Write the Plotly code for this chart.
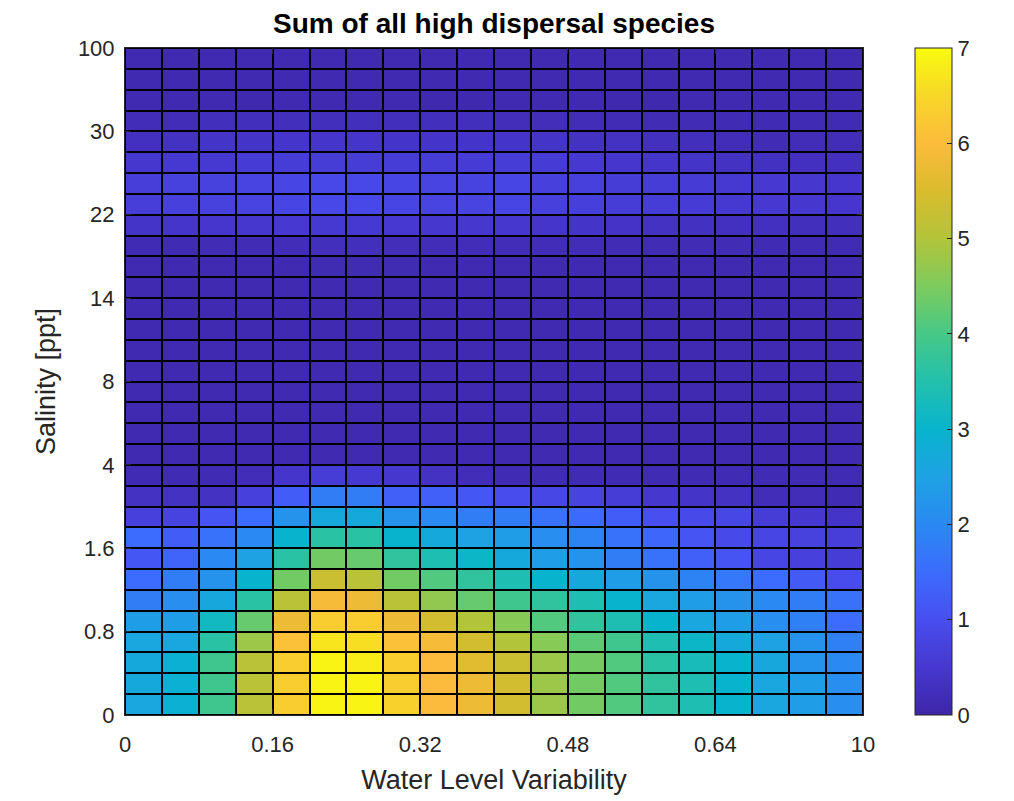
import plotly.graph_objects as go

# ---- tick labels -------------------------------------------------------
x_tick_labels = ["0", "0.16", "0.32", "0.48", "0.64", "10"]
y_tick_labels = ["0", "0.8", "1.6", "4", "8", "14", "22", "30", "100"]
cbar_ticks = [0, 1, 2, 3, 4, 5, 6, 7]

n_cols = 20   # water level variability classes
n_rows = 32   # salinity classes

# ---- cell values, bottom row (row 0) to top row (row 31) ---------------
row00 = [2.6, 2.9, 3.9, 5.1, 6.3, 6.9, 6.9, 6.4, 6.0, 5.8, 5.4, 4.8, 4.4, 4.1, 3.7, 3.4, 3.0, 2.6, 2.4, 2.1]
row01 = [2.7, 2.9, 3.9, 5.1, 6.3, 6.9, 6.9, 6.3, 6.0, 5.8, 5.4, 4.8, 4.4, 4.1, 3.7, 3.4, 3.0, 2.6, 2.4, 2.1]
row02 = [2.7, 2.9, 3.9, 5.1, 6.3, 6.9, 6.8, 6.3, 6.0, 5.6, 5.3, 4.8, 4.4, 4.1, 3.6, 3.3, 3.0, 2.65, 2.2, 2.0]
row03 = [2.6, 2.6, 3.6, 4.8, 6.1, 6.7, 6.6, 6.1, 5.9, 5.4, 5.0, 4.6, 4.2, 3.9, 3.4, 3.1, 2.7, 2.5, 2.2, 1.85]
row04 = [2.4, 2.4, 3.2, 4.3, 5.8, 6.3, 6.3, 5.8, 5.4, 5.0, 4.6, 4.1, 3.7, 3.4, 3.0, 2.6, 2.4, 2.1, 1.85, 1.5]
row05 = [1.8, 2.1, 2.65, 3.6, 5.1, 5.9, 5.8, 5.1, 4.7, 4.3, 3.9, 3.7, 3.4, 3.0, 2.6, 2.4, 2.2, 2.0, 1.8, 1.6]
row06 = [1.5, 1.8, 2.2, 3.0, 4.4, 5.3, 5.1, 4.4, 4.1, 3.7, 3.4, 3.0, 2.7, 2.4, 2.2, 1.9, 1.7, 1.5, 1.2, 0.95]
row07 = [1.15, 1.35, 2.0, 2.5, 3.6, 4.4, 4.3, 3.7, 3.4, 3.1, 2.7, 2.4, 2.2, 1.8, 1.6, 1.3, 1.1, 0.8, 0.7, 0.6]
row08 = [1.5, 1.25, 1.6, 2.0, 3.0, 3.6, 3.6, 3.0, 2.7, 2.5, 2.4, 2.1, 1.9, 1.6, 1.4, 1.1, 0.9, 0.8, 0.72, 0.65]
row09 = [0.7, 0.75, 1.1, 1.5, 2.2, 2.7, 2.7, 2.2, 2.0, 1.8, 1.8, 1.6, 1.45, 1.25, 1.0, 0.9, 0.85, 0.6, 0.5, 0.4]
row10 = [0.35, 0.35, 0.35, 0.7, 1.25, 1.8, 1.8, 1.3, 1.3, 1.15, 0.95, 0.85, 0.75, 0.6, 0.5, 0.4, 0.35, 0.2, 0.2, 0.15]
row11 = [0.15, 0.15, 0.15, 0.2, 0.45, 0.6, 0.55, 0.5, 0.35, 0.2, 0.15, 0.15, 0.15, 0.15, 0.15, 0.15, 0.15, 0.15, 0.15, 0.15]
row12 = [0.12, 0.12, 0.12, 0.12, 0.12, 0.12, 0.12, 0.12, 0.12, 0.12, 0.12, 0.12, 0.12, 0.12, 0.12, 0.12, 0.12, 0.12, 0.12, 0.12]
row13 = [0.12, 0.12, 0.12, 0.12, 0.12, 0.12, 0.12, 0.12, 0.12, 0.12, 0.12, 0.12, 0.12, 0.12, 0.12, 0.12, 0.12, 0.12, 0.12, 0.12]
row14 = [0.12, 0.12, 0.12, 0.12, 0.12, 0.12, 0.12, 0.12, 0.12, 0.12, 0.12, 0.12, 0.12, 0.12, 0.12, 0.12, 0.12, 0.12, 0.12, 0.12]
row15 = [0.12, 0.12, 0.12, 0.12, 0.12, 0.12, 0.12, 0.12, 0.12, 0.12, 0.12, 0.12, 0.12, 0.12, 0.12, 0.12, 0.12, 0.12, 0.12, 0.12]
row16 = [0.12, 0.12, 0.12, 0.12, 0.12, 0.12, 0.12, 0.12, 0.12, 0.12, 0.12, 0.12, 0.12, 0.12, 0.12, 0.12, 0.12, 0.12, 0.12, 0.12]
row17 = [0.12, 0.12, 0.12, 0.12, 0.12, 0.12, 0.12, 0.12, 0.12, 0.12, 0.12, 0.12, 0.12, 0.12, 0.12, 0.12, 0.12, 0.12, 0.12, 0.12]
row18 = [0.12, 0.12, 0.12, 0.12, 0.12, 0.12, 0.12, 0.12, 0.12, 0.12, 0.12, 0.12, 0.12, 0.12, 0.12, 0.12, 0.12, 0.12, 0.12, 0.12]
row19 = [0.12, 0.12, 0.12, 0.12, 0.12, 0.12, 0.12, 0.12, 0.12, 0.12, 0.12, 0.12, 0.12, 0.12, 0.12, 0.12, 0.12, 0.12, 0.12, 0.12]
row20 = [0.12, 0.12, 0.12, 0.12, 0.12, 0.12, 0.12, 0.12, 0.12, 0.12, 0.12, 0.12, 0.12, 0.12, 0.12, 0.12, 0.12, 0.12, 0.12, 0.12]
row21 = [0.12, 0.12, 0.12, 0.12, 0.12, 0.14, 0.14, 0.14, 0.12, 0.12, 0.12, 0.12, 0.12, 0.12, 0.12, 0.12, 0.12, 0.12, 0.12, 0.12]
row22 = [0.15, 0.15, 0.18, 0.18, 0.2, 0.25, 0.25, 0.22, 0.2, 0.2, 0.2, 0.2, 0.2, 0.18, 0.18, 0.18, 0.18, 0.15, 0.15, 0.15]
row23 = [0.4, 0.45, 0.48, 0.5, 0.52, 0.55, 0.55, 0.52, 0.5, 0.5, 0.5, 0.45, 0.4, 0.38, 0.35, 0.32, 0.3, 0.3, 0.25, 0.25]
row24 = [0.65, 0.7, 0.72, 0.78, 0.8, 0.88, 0.88, 0.8, 0.78, 0.78, 0.8, 0.7, 0.68, 0.62, 0.6, 0.58, 0.55, 0.52, 0.5, 0.48]
row25 = [0.65, 0.72, 0.72, 0.78, 0.8, 0.88, 0.88, 0.8, 0.78, 0.75, 0.82, 0.7, 0.7, 0.62, 0.6, 0.58, 0.55, 0.52, 0.5, 0.48]
row26 = [0.5, 0.55, 0.55, 0.58, 0.6, 0.62, 0.62, 0.6, 0.6, 0.58, 0.62, 0.58, 0.52, 0.48, 0.45, 0.4, 0.35, 0.32, 0.3, 0.3]
row27 = [0.3, 0.35, 0.4, 0.4, 0.45, 0.45, 0.45, 0.42, 0.42, 0.42, 0.42, 0.4, 0.35, 0.35, 0.28, 0.25, 0.2, 0.18, 0.2, 0.2]
row28 = [0.2, 0.2, 0.25, 0.25, 0.25, 0.25, 0.25, 0.25, 0.25, 0.25, 0.22, 0.22, 0.2, 0.18, 0.18, 0.18, 0.15, 0.15, 0.15, 0.15]
row29 = [0.12, 0.12, 0.12, 0.08, 0.12, 0.12, 0.12, 0.12, 0.08, 0.08, 0.12, 0.12, 0.12, 0.08, 0.08, 0.12, 0.12, 0.12, 0.12, 0.12]
row30 = [0.12, 0.12, 0.12, 0.12, 0.12, 0.12, 0.12, 0.12, 0.12, 0.12, 0.12, 0.12, 0.12, 0.12, 0.12, 0.12, 0.12, 0.12, 0.12, 0.12]
row31 = [0.12, 0.12, 0.12, 0.12, 0.12, 0.12, 0.12, 0.12, 0.12, 0.12, 0.12, 0.12, 0.12, 0.12, 0.12, 0.12, 0.12, 0.12, 0.12, 0.12]

z = [row00, row01, row02, row03, row04, row05, row06, row07,
     row08, row09, row10, row11, row12, row13, row14, row15,
     row16, row17, row18, row19, row20, row21, row22, row23,
     row24, row25, row26, row27, row28, row29, row30, row31]

# parula-like colour scale
parula = [
    [0.000, "rgb(62,38,168)"],
    [0.071, "rgb(70,55,207)"],
    [0.143, "rgb(72,78,240)"],
    [0.214, "rgb(60,108,253)"],
    [0.286, "rgb(42,137,242)"],
    [0.357, "rgb(30,162,228)"],
    [0.429, "rgb(8,180,205)"],
    [0.500, "rgb(35,192,172)"],
    [0.571, "rgb(70,200,135)"],
    [0.643, "rgb(125,203,93)"],
    [0.714, "rgb(178,196,58)"],
    [0.786, "rgb(218,187,45)"],
    [0.857, "rgb(252,187,60)"],
    [0.929, "rgb(247,215,40)"],
    [1.000, "rgb(249,251,14)"],
]

x_centers = [i + 0.5 for i in range(n_cols)]
y_centers = [j + 0.5 for j in range(n_rows)]

FONT = "Liberation Sans, Arial, Helvetica, sans-serif"
TXT = "#262626"
TICK_SIZE = 22
LABEL_SIZE = 27
TITLE_SIZE = 28

fig = go.Figure(
    go.Heatmap(
        z=z, x=x_centers, y=y_centers,
        zmin=0, zmax=7, colorscale=parula,
        xgap=2, ygap=2,
        hoverinfo="skip",
        colorbar=dict(
            x=(915 - 125) / 738, xref="paper", xanchor="left", xpad=0,
            y=0.5, yanchor="middle", len=1.0, lenmode="fraction", ypad=0,
            thickness=37, thicknessmode="pixels",
            outlinewidth=1, outlinecolor=TXT,
            tickvals=cbar_ticks, ticks="inside", ticklen=5, tickcolor=TXT,
            tickfont=dict(family=FONT, size=TICK_SIZE, color=TXT),
        ),
    )
)

fig.update_layout(
    width=1014, height=801,
    margin=dict(l=125, r=151, t=48, b=84, pad=0),
    paper_bgcolor="white", plot_bgcolor="black",
    title=dict(
        text="<b>Sum of all high dispersal species</b>",
        x=0.5, xref="paper", xanchor="center",
        y=1 - 23 / 801, yref="container", yanchor="middle",
        font=dict(family=FONT, size=TITLE_SIZE, color="#000000"),
    ),
    xaxis=dict(
        range=[0, n_cols], tickvals=[0, 4, 8, 12, 16, 20], ticktext=x_tick_labels,
        ticks="inside", ticklen=6, tickcolor=TXT, showgrid=False, zeroline=False,
        showline=True, linecolor=TXT, linewidth=1, mirror="ticks",
        ticklabelstandoff=10,
        tickfont=dict(family=FONT, size=TICK_SIZE, color=TXT),
        title=dict(text="Water Level Variability", standoff=13,
                   font=dict(family=FONT, size=LABEL_SIZE, color=TXT)),
    ),
    yaxis=dict(
        range=[0, n_rows], tickvals=[0, 4, 8, 12, 16, 20, 24, 28, 32], ticktext=y_tick_labels,
        ticks="inside", ticklen=6, tickcolor=TXT, showgrid=False, zeroline=False,
        showline=True, linecolor=TXT, linewidth=1, mirror="ticks",
        ticklabelstandoff=5,
        tickfont=dict(family=FONT, size=TICK_SIZE, color=TXT),
        title=dict(text="Salinity [ppt]", standoff=14,
                   font=dict(family=FONT, size=LABEL_SIZE, color=TXT)),
    ),
)

fig.write_html("out.html")
